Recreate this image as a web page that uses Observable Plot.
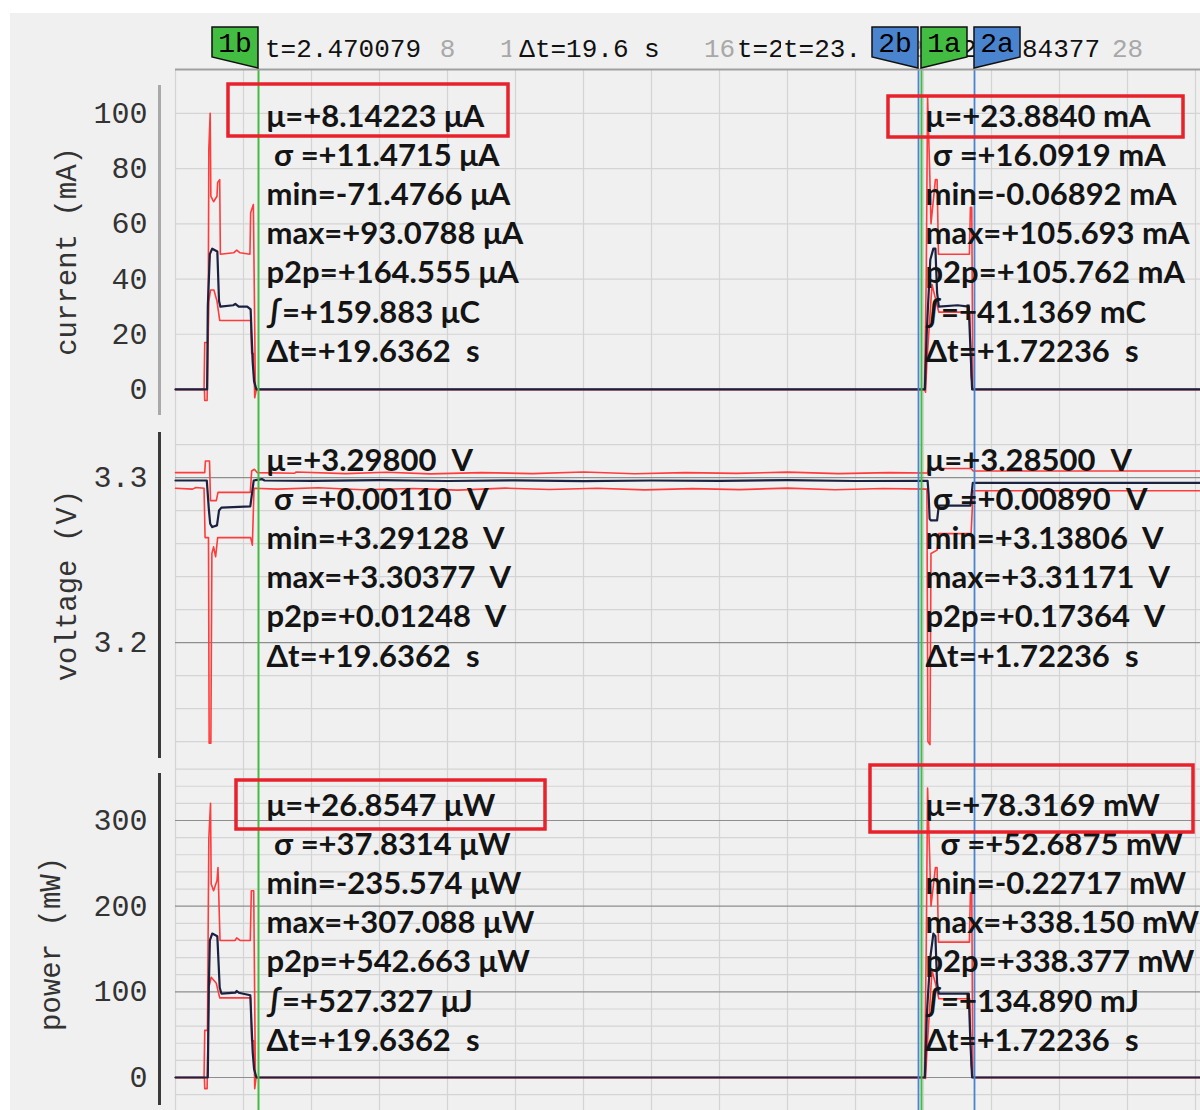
<!DOCTYPE html>
<html><head><meta charset="utf-8">
<script src="https://cdn.jsdelivr.net/npm/d3@7"></script>
<script src="https://cdn.jsdelivr.net/npm/@observablehq/plot@0.6"></script>
<style>
body{margin:0;background:#fff;}
#chart{position:relative;width:1200px;height:1110px;background:#fff;overflow:hidden;}
#bg{position:absolute;left:10px;top:13px;width:1190px;height:1097px;background:#f0f0f0;}
#chart svg{position:absolute;left:0;}
</style></head><body><div id="chart"><div id="bg"></div></div>
<script>
// ---------- data ----------
const timeDomain = [0, 30.147];
const gridTimes = [0,2,4,6,8,10,12,14,16,18,20,22,24,26,28,30];
const timeTickLabels = [2,4,6,8,10,12,14,16,18,20,22,24,26,28];

const markerNames = ["1b","2b","1a","2a"];
const markerTimes = [2.441, 21.853, 21.941, 23.500];
const headerTexts = ["t=2.470079", "Δt=19.6 s", "t=2", "t=23.", "2", "84377"];

const currentTicks = [0,20,40,60,80,100];
const voltageTicks = [3.2,3.3];
const powerTicks = [0,100,200,300];
const axisLabels = ["current (mA)", "voltage (V)", "power (mW)"];

const currentMean = [[0,0],[0.93,0],[0.95,30],[1.01,49],[1.08,51],[1.23,50],[1.28,32],[1.32,30],[1.70,30.5],[1.76,31],[1.86,30],[2.11,30],[2.21,29],[2.27,10],[2.31,3],[2.38,0],[22.04,0],[22.10,22],[22.20,47],[22.29,51],[22.35,51],[22.40,35],[22.45,30],[23.00,30.5],[23.33,30],[23.38,15],[23.43,0],[30.2,0]];
const currentMax = [[0,0],[0.84,0],[0.86,17],[0.96,17],[0.98,87],[1.02,100],[1.04,70],[1.12,68],[1.22,70],[1.24,75],[1.30,76],[1.32,49],[1.71,49.5],[1.80,50.5],[1.90,49.5],[2.19,49],[2.21,64],[2.29,67],[2.35,0],[22.03,0],[22.08,40],[22.12,106],[22.18,80],[22.22,60],[22.35,76],[22.40,76],[22.44,49],[23.35,49],[23.38,66],[23.42,66],[23.45,0],[30.2,0]];
const currentMin = [[0,0],[0.85,0],[0.86,-4],[0.93,-4],[0.98,32],[1.03,36],[1.13,36],[1.22,32],[1.30,25],[2.21,25],[2.24,13],[2.30,13],[2.33,-3],[2.38,0],[22.03,0],[22.06,-1],[22.10,10],[22.25,38],[22.35,33],[22.45,28],[23.36,28],[23.40,5],[23.45,0],[30.2,0]];

const voltageMean = [[0,3.2982],[0.92,3.2982],[0.98,3.2810],[1.02,3.2720],[1.08,3.2700],[1.22,3.2710],[1.28,3.2800],[1.35,3.2818],[2.20,3.2825],[2.30,3.2982],[2.55,3.2990],[2.62,3.2982],[4.0,3.2980],[6.0,3.2984],[8.0,3.2979],[10.0,3.2983],[12.0,3.2978],[14.0,3.2982],[16.0,3.2980],[18.0,3.2984],[20.0,3.2979],[22.12,3.2980],[22.15,3.2900],[22.18,3.2750],[22.22,3.2740],[22.40,3.2740],[22.45,3.2830],[23.38,3.2830],[23.45,3.2968],[30.2,3.2968]];
const voltageMax = [[0,3.3030],[0.86,3.3030],[0.88,3.3100],[1.00,3.3100],[1.03,3.2860],[1.20,3.2860],[1.25,3.2910],[2.20,3.2910],[2.24,3.3040],[2.32,3.3050],[2.40,3.3030],[3.5,3.3026],[3.55,3.3034],[5.0,3.3024],[6.2,3.3032],[7.5,3.3022],[9.0,3.3030],[10.5,3.3024],[12.0,3.3034],[13.5,3.3023],[15.0,3.3030],[16.5,3.3025],[18.0,3.3033],[19.5,3.3024],[21.0,3.3030],[22.12,3.3028],[22.15,3.3055],[23.40,3.3055],[23.46,3.3040],[30.2,3.3040]];
const voltageMin = [[0,3.2935],[0.5,3.2930],[0.6,3.2940],[0.84,3.2935],[0.87,3.2636],[0.97,3.2636],[0.99,3.1390],[1.04,3.1390],[1.07,3.2540],[1.12,3.2580],[1.18,3.2520],[1.24,3.2636],[2.21,3.2636],[2.26,3.2590],[2.31,3.2935],[3.0,3.2930],[4.2,3.2938],[5.5,3.2926],[7.0,3.2934],[8.3,3.2924],[9.7,3.2936],[11.0,3.2928],[12.4,3.2935],[13.8,3.2925],[15.2,3.2933],[16.6,3.2927],[18.0,3.2936],[19.4,3.2926],[20.8,3.2934],[22.10,3.2930],[22.13,3.1400],[22.19,3.1381],[22.22,3.2540],[22.40,3.2560],[22.45,3.2660],[23.40,3.2660],[23.46,3.2920],[30.2,3.2920]];

const powerMean = [[0,0],[0.95,0],[0.98,105],[1.01,160],[1.08,168],[1.23,165],[1.30,105],[1.35,98],[1.76,99],[1.80,101],[1.86,99],[2.20,96],[2.27,30],[2.31,10],[2.38,0],[22.04,0],[22.10,75],[22.20,140],[22.29,168],[22.35,165],[22.40,110],[22.45,98],[23.33,98],[23.38,40],[23.43,0],[30.2,0]];
const powerMax = [[0,0],[0.84,0],[0.86,55],[0.94,55],[0.98,279],[1.03,320],[1.05,226],[1.12,218],[1.22,230],[1.25,245],[1.31,160],[1.75,160],[1.80,163],[1.90,160],[2.20,160],[2.23,218],[2.30,218],[2.35,0],[22.03,0],[22.08,150],[22.12,338],[22.18,260],[22.22,200],[22.35,245],[22.40,245],[22.44,158],[23.35,158],[23.38,216],[23.42,216],[23.45,0],[30.2,0]];
const powerMin = [[0,0],[0.85,0],[0.86,-13],[0.93,-13],[0.98,105],[1.05,117],[1.20,110],[1.30,93],[2.21,93],[2.24,43],[2.31,43],[2.33,-13],[2.37,0],[22.03,0],[22.06,-1],[22.10,30],[22.25,125],[22.35,110],[22.45,92],[23.36,92],[23.40,15],[23.45,0],[30.2,0]];

const NB = "\u00a0";
const currentStatsLeft = ["μ=+8.14223 μA", NB+"σ =+11.4715 μA", "min=-71.4766 μA", "max=+93.0788 μA", "p2p=+164.555 μA", "∫=+159.883 μC", "Δt=+19.6362"+NB+NB+"s"];
const currentStatsRight = ["μ=+23.8840 mA", NB+"σ =+16.0919 mA", "min=-0.06892 mA", "max=+105.693 mA", "p2p=+105.762 mA", "∫=+41.1369 mC", "Δt=+1.72236"+NB+NB+"s"];
const voltageStatsLeft = ["μ=+3.29800"+NB+NB+"V", NB+"σ =+0.00110"+NB+NB+"V", "min=+3.29128"+NB+NB+"V", "max=+3.30377"+NB+NB+"V", "p2p=+0.01248"+NB+NB+"V", "Δt=+19.6362"+NB+NB+"s"];
const voltageStatsRight = ["μ=+3.28500"+NB+NB+"V", NB+"σ =+0.00890"+NB+NB+"V", "min=+3.13806"+NB+NB+"V", "max=+3.31171"+NB+NB+"V", "p2p=+0.17364"+NB+NB+"V", "Δt=+1.72236"+NB+NB+"s"];
const powerStatsLeft = ["μ=+26.8547 μW", NB+"σ =+37.8314 μW", "min=-235.574 μW", "max=+307.088 μW", "p2p=+542.663 μW", "∫=+527.327 μJ", "Δt=+19.6362"+NB+NB+"s"];
const powerStatsRight = ["μ=+78.3169 mW", NB+NB+"σ =+52.6875 mW", "min=-0.22717 mW", "max=+338.150 mW", "p2p=+338.377 mW", "∫=+134.890 mJ", "Δt=+1.72236"+NB+NB+"s"];

// ---------- style ----------
const RED = "#ff3b3b", NAVY = "#1b2140", GRID = "#d4d4d4", MAJOR = "#8e8e8e";
const GREEN = "#42bd42", BLUE = "#4a84cf";
const MONO = "'Liberation Mono','DejaVu Sans Mono',monospace";
const SANS = "Lato,'Open Sans',sans-serif";
const markerColors = [GREEN, BLUE, GREEN, BLUE];

function boxesMark(specs) {
  return (index, scales, values, dim) => {
    const g = d3.create("svg:g");
    specs.forEach(b => {
      const x0 = scales.x(markerTimes[b.m]);
      g.append("rect").attr("x", x0 + b.x1).attr("y", dim.marginTop + b.y1)
        .attr("width", b.x2 - b.x1).attr("height", b.y2 - b.y1)
        .attr("fill", "none").attr("stroke", "#e8212b").attr("stroke-width", 3.5);
    });
    return g.node();
  };
}

function headerMark(index, scales, values, dim) {
  const g = d3.create("svg:g");
  const ft = dim.marginTop;
  const cy = ft - 21;
  const xm = i => scales.x(markerTimes[i]);
  const cw = 15.6;
  const lefts = [xm(0) + 7, (xm(0) + xm(2)) / 2 - headerTexts[1].length * cw / 2, xm(1) - 181, xm(1) - 135, xm(2) + 40, xm(3) + 48];
  const padL = [3, 8, 2, 2, 0, 3];
  const padR = [3, 8, 2, 14, 0, 3];
  headerTexts.forEach((s, i) => {
    const w = s.length * cw;
    if (padL[i] || padR[i]) g.append("rect").attr("x", lefts[i] - padL[i]).attr("y", cy - 15).attr("width", w + padL[i] + padR[i]).attr("height", 30).attr("fill", "#f0f0f0");
    g.append("text").attr("x", lefts[i]).attr("y", cy).attr("dy", "0.35em").attr("text-anchor", "start")
      .attr("font-family", MONO).attr("font-size", 26).attr("fill", "#111").text(s);
  });
  markerNames.forEach((name, i) => {
    const x = xm(i), isB = name.endsWith("b");
    const w = 46, top = ft - 42, side = ft - 12, tip = ft - 1;
    const p = isB ? [[x - w, top], [x, top], [x, tip], [x - w, side]] : [[x, top], [x + w, top], [x + w, side], [x, tip]];
    g.append("path").attr("d", "M" + p.map(q => q.join(",")).join("L") + "Z")
      .attr("fill", markerColors[i]).attr("stroke", "#111").attr("stroke-width", 1.5);
    g.append("text").attr("x", isB ? x - w / 2 : x + w / 2).attr("y", top + 15).attr("dy", "0.35em")
      .attr("text-anchor", "middle").attr("font-family", MONO).attr("font-size", 28).attr("fill", "#000").text(name);
  });
  return g.node();
}

function makePanel(cfg) {
  const marks = [
    Plot.ruleX(gridTimes, {stroke: GRID, strokeWidth: 1.2}),
    Plot.ruleY(cfg.minorGrid, {stroke: GRID, strokeWidth: 1.2}),
    Plot.ruleY(cfg.majorGrid, {stroke: MAJOR, strokeWidth: 1.2}),
    Plot.ruleX([0], {y1: () => cfg.axisSpan[0], y2: () => cfg.axisSpan[1], dx: -16, stroke: cfg.axisColor, strokeWidth: 3}),
    Plot.axisY(cfg.ticks, {tickSize: 0, tickPadding: 28, fontSize: 30, fontFamily: MONO, fill: "#333", tickFormat: cfg.tickFormat, label: null}),
    Plot.text([cfg.label], {frameAnchor: "left", y: () => cfg.labelY, dx: cfg.labelDx, rotate: -90, fontSize: 29, fontFamily: MONO, fill: "#333", textAnchor: "middle", lineAnchor: "middle"}),
    Plot.line(cfg.series[0], {x: d => d[0], y: d => d[1], stroke: RED, strokeWidth: 1.6}),
    Plot.line(cfg.series[1], {x: d => d[0], y: d => d[1], stroke: RED, strokeWidth: 1.6}),
    Plot.line(cfg.series[2], {x: d => d[0], y: d => d[1], stroke: NAVY, strokeWidth: 2.2}),
    Plot.ruleX([markerTimes[0], markerTimes[2]], {stroke: GREEN, strokeWidth: 2}),
    Plot.ruleX([markerTimes[1], markerTimes[3]], {stroke: BLUE, strokeWidth: 1.8}),
    Plot.text([{t: markerTimes[0], s: cfg.stats[0].join("\n")}], {x: "t", text: "s", frameAnchor: "top", dx: 8, dy: cfg.statsDy, textAnchor: "start", lineAnchor: "top", lineHeight: 1.26, fontSize: 31, fontWeight: 700, fontFamily: SANS, fill: "#141414"}),
    Plot.text([{t: markerTimes[2], s: cfg.stats[1].join("\n")}], {x: "t", text: "s", frameAnchor: "top", dx: 4, dy: cfg.statsDy, textAnchor: "start", lineAnchor: "top", lineHeight: 1.26, fontSize: 31, fontWeight: 700, fontFamily: SANS, fill: "#141414"}),
    boxesMark(cfg.boxes)
  ];
  if (cfg.header) {
    marks.push(Plot.ruleY([cfg.yDomain[1]], {stroke: "#a0a0a0", strokeWidth: 2}));
    marks.push(Plot.text(timeTickLabels, {x: d => d, text: d => String(d), frameAnchor: "top", dy: -21, lineAnchor: "middle", fontFamily: MONO, fontSize: 26, fill: "#a8a8a8"}));
    marks.push(headerMark);
  }
  const svg = Plot.plot({
    width: 1200, height: cfg.height,
    marginLeft: 175, marginRight: 0, marginTop: cfg.marginTop, marginBottom: 0,
    style: {background: "transparent"},
    x: {domain: timeDomain, axis: null},
    y: {domain: cfg.yDomain},
    marks
  });
  svg.style.top = cfg.top + "px";
  document.getElementById("chart").appendChild(svg);
}

makePanel({
  top: 13, height: 403, marginTop: 56, header: true,
  yDomain: [-9.8, 115.9],
  ticks: currentTicks, tickFormat: d => String(d),
  minorGrid: [20,40,60,80,100], majorGrid: [],
  axisSpan: [-9.4, 110.1], axisColor: "#a9a9a9",
  label: axisLabels[0], labelY: 50, labelDx: -109,
  series: [currentMin, currentMax, currentMean],
  stats: [currentStatsLeft, currentStatsRight], statsDy: 30,
  boxes: [{m: 0, x1: -30, x2: 250, y1: 15, y2: 67}, {m: 2, x1: -33, x2: 262, y1: 27, y2: 68}]
});
makePanel({
  top: 416, height: 346, marginTop: 0,
  yDomain: [3.1273, 3.3370],
  ticks: voltageTicks, tickFormat: d => d.toFixed(1),
  minorGrid: [3.14,3.16,3.18,3.22,3.24,3.26,3.28,3.32], majorGrid: [3.2,3.3],
  axisSpan: [3.1297, 3.3273], axisColor: "#3a3a3a",
  label: axisLabels[1], labelY: 3.2345, labelDx: -109,
  series: [voltageMin, voltageMax, voltageMean],
  stats: [voltageStatsLeft, voltageStatsRight], statsDy: 27,
  boxes: []
});
makePanel({
  top: 762, height: 348, marginTop: 0,
  yDomain: [-38.5, 367.7],
  ticks: powerTicks, tickFormat: d => String(d),
  minorGrid: [-20,20,40,60,80,120,140,160,180,220,240,260,280,320,340,360], majorGrid: [0,100,200,300],
  axisSpan: [-32.7, 354.9], axisColor: "#3a3a3a",
  label: axisLabels[2], labelY: 156, labelDx: -125,
  series: [powerMin, powerMax, powerMean],
  stats: [powerStatsLeft, powerStatsRight], statsDy: 26,
  boxes: [{m: 0, x1: -22, x2: 287, y1: 18, y2: 67}, {m: 2, x1: -51, x2: 272, y1: 3, y2: 70}]
});
</script></body></html>
